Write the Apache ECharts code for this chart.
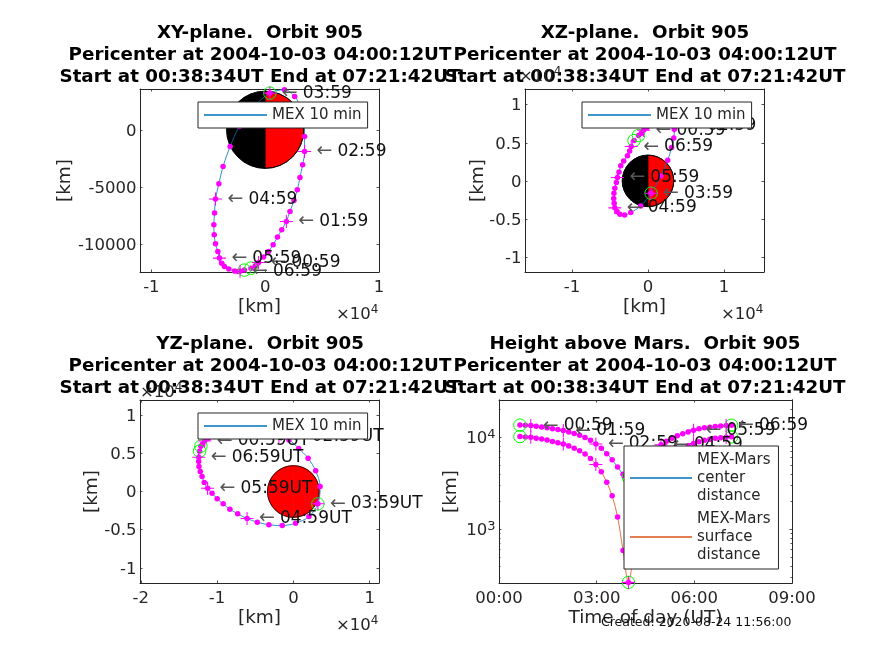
<!DOCTYPE html>
<html><head><meta charset="utf-8">
<style>html,body{margin:0;padding:0;background:#fff}#c{width:874px;height:655px}</style>
<script src="https://cdn.jsdelivr.net/npm/echarts@6/dist/echarts.min.js"></script>
</head><body><div id="c"></div>
<script>
// MEX position every 10 min from 00:38:34UT (km)
const orbitX=[-1250,-870,-580,-145,290,700,1080,1455,1860,2180,2530,2820,3055,3290,3460,3460,3400,3110,2590,1690,410,-960,-2270,-3080,-3700,-4070,-4365,-4450,-4510,-4480,-4365,-4160,-4020,-3810,-3580,-3200,-2700,-2415,-2210,-1830];
const orbitY=[-12120,-11910,-11620,-11150,-10660,-10070,-9400,-8760,-8030,-7150,-6190,-5260,-4180,-3070,-1900,-580,700,1930,2920,3500,3210,2040,290,-1460,-3210,-4730,-6070,-7300,-8320,-9200,-9990,-10660,-11240,-11680,-11970,-12200,-12370,-12410,-12400,-12290];
const orbitZ=[5950,6240,6630,7000,7350,7700,8000,8250,8470,8620,8700,8680,8500,7950,7200,6770,5640,4370,2710,655,-1620,-3280,-4150,-4460,-4370,-4020,-3540,-2930,-2320,-1620,-960,-220,440,1180,1970,2620,3280,3930,4500,5290];
const orbitHours=[0.6428,0.8094,0.9761,1.1428,1.3094,1.4761,1.6428,1.8094,1.9761,2.1428,2.3094,2.4761,2.6428,2.8094,2.9761,3.1428,3.3094,3.4761,3.6428,3.8094,3.9761,4.1428,4.3094,4.4761,4.6428,4.8094,4.9761,5.1428,5.3094,5.4761,5.6428,5.8094,5.9761,6.1428,6.3094,6.4761,6.6428,6.8094,6.9761,7.1428];
const centerDist=[13560,13470,13390,13170,12950,12700,12390,12120,11820,11410,10970,10530,9960,9260,8460,7620,6630,5700,4750,3970,3655,3980,4740,5610,6570,7430,8270,9040,9740,10360,10940,11440,11950,12340,12650,12880,13120,13270,13420,13500];
const surfaceDist=[10170,10080,10000,9780,9560,9310,9000,8730,8430,8020,7580,7140,6570,5870,5070,4230,3240,2310,1360,590,265,590,1350,2220,3180,4040,4880,5650,6350,6970,7550,8050,8560,8950,9260,9490,9730,9880,10030,10110];
const hourIndex=[2,8,14,20,26,32,38];
const hourLabels=['00:59','01:59','02:59','03:59','04:59','05:59','06:59'];
const greenIndex=[0,20,39];
const marsRadius=3390;
const panelTitles=[
 'XY-plane.  Orbit 905\nPericenter at 2004-10-03 04:00:12UT\nStart at 00:38:34UT End at 07:21:42UT',
 'XZ-plane.  Orbit 905\nPericenter at 2004-10-03 04:00:12UT\nStart at 00:38:34UT End at 07:21:42UT',
 'YZ-plane.  Orbit 905\nPericenter at 2004-10-03 04:00:12UT\nStart at 00:38:34UT End at 07:21:42UT',
 'Height above Mars.  Orbit 905\nPericenter at 2004-10-03 04:00:12UT\nStart at 00:38:34UT End at 07:21:42UT'];
const createdText='Created: 2020-08-24 11:56:00';
const xyXTicks=[-10000,0,10000], xyYTicks=[-10000,-5000,0];
const xzXTicks=[-10000,0,10000], xzYTicks=[-10000,-5000,0,5000,10000];
const yzXTicks=[-20000,-10000,0,10000], yzYTicks=[-10000,-5000,0,5000,10000];
const timeTicks=[0,3,6,9];
const heightMajor=[1000,10000];
const heightMinor=[300,400,500,600,700,800,900,2000,3000,4000,5000,6000,7000,8000,9000,20000];

const FF='DejaVu Sans', INK='#262626', BLUE='#0072BD', ORANGE='#D95319', MAG='#FF00FF', GREEN='#00FF00';
const PLUS='path://M46 0H54V46H100V54H54V100H46V54H0V46H46Z';

const grids=[
 {left:140,top:89,width:239,height:183},
 {left:525,top:89,width:239,height:183},
 {left:140,top:400,width:239,height:183},
 {left:499,top:400,width:293,height:183}];
const ranges=[
 {x:[-11000,10000],y:[-12456,3570]},
 {x:[-16180,15260],y:[-11950,12050]},
 {x:[-20100,11220],y:[-12000,12000]},
 {x:[0,9],y:[261,25400]}];
const kmFmt=v=>String(v/10000);
const xAxes=[],yAxes=[];
function addAxis(arr,o){arr.push(o);return arr.length-1;}
function mkX(i,ticks,fmt,name){
 const base={type:'value',gridIndex:i,min:ranges[i].x[0],max:ranges[i].x[1],splitLine:{show:false},
  axisLine:{show:true,onZero:false,lineStyle:{color:INK,width:1}}};
 const tick={show:true,inside:true,length:2.5,customValues:ticks,lineStyle:{color:INK,width:.8}};
 const bot=addAxis(xAxes,Object.assign({},base,{position:'bottom',axisTick:tick,
  axisLabel:{show:true,customValues:ticks,formatter:fmt,margin:7,fontFamily:FF,fontSize:16.5,color:INK,hideOverlap:false,showMinLabel:true,showMaxLabel:true},
  name:name,nameLocation:'middle',nameMoveOverlap:false,nameGap:26,nameTextStyle:{fontFamily:FF,fontSize:18.5,color:INK}}));
 addAxis(xAxes,Object.assign({},base,{position:'top',axisTick:tick,axisLabel:{show:false}}));
 return bot;
}
function mkY(i,ticks,fmt,name,gap,type,minor){
 const base={type:type||'value',gridIndex:i,min:ranges[i].y[0],max:ranges[i].y[1],splitLine:{show:false},
  axisLine:{show:true,onZero:false,lineStyle:{color:INK,width:1}},logBase:10};
 const tick={show:true,inside:true,length:2.5,customValues:ticks,lineStyle:{color:INK,width:.8}};
 const left=addAxis(yAxes,Object.assign({},base,{position:'left',axisTick:tick,
  axisLabel:{show:true,customValues:ticks,formatter:fmt,margin:3.5,fontFamily:FF,fontSize:16.5,color:INK,hideOverlap:false,showMinLabel:true,showMaxLabel:true,padding:[3,0,0,0],
   rich:{s:{fontSize:13,padding:[0,0,9,0],fontFamily:FF,color:INK}}},
  name:name,nameLocation:'middle',nameMoveOverlap:false,nameGap:gap,nameTextStyle:{fontFamily:FF,fontSize:18.5,color:INK}}));
 addAxis(yAxes,Object.assign({},base,{position:'right',axisTick:tick,axisLabel:{show:false}}));
 if(minor){
  const mt=Object.assign({},tick,{customValues:minor,length:1.5});
  addAxis(yAxes,Object.assign({},base,{position:'left',axisTick:mt,axisLabel:{show:false}}));
  addAxis(yAxes,Object.assign({},base,{position:'right',axisTick:mt,axisLabel:{show:false}}));
 }
 return left;
}
const x0=mkX(0,xyXTicks,kmFmt,'[km]'), y0=mkY(0,xyYTicks,v=>String(v),'[km]',65);
const x1=mkX(1,xzXTicks,kmFmt,'[km]'), y1=mkY(1,xzYTicks,kmFmt,'[km]',37);
const x2=mkX(2,yzXTicks,kmFmt,'[km]'), y2=mkY(2,yzYTicks,kmFmt,'[km]',38);
const timeFmt=v=>String(v).padStart(2,'0')+':00';
const x3=mkX(3,timeTicks,timeFmt,'Time of day (UT)');
const y3=mkY(3,heightMajor,v=>'10{s|'+Math.round(Math.log10(v))+'}','[km]',38,'log',heightMinor);

const zipSel=(a,b,idx)=>idx.map(i=>[a[i],b[i]]);
const allIdx=orbitX.map((_,i)=>i);
function marksFor(xi,yi,a,b,labels,lineColor,lineName){
 const s=[];
 s.push({type:'line',name:lineName,xAxisIndex:xi,yAxisIndex:yi,data:allIdx.map(i=>[a[i],b[i]]),smooth:.35,showSymbol:false,symbol:'none',clip:false,silent:true,z:3,
  lineStyle:{color:lineColor,width:.8},itemStyle:{color:lineColor}});
 s.push({type:'scatter',xAxisIndex:xi,yAxisIndex:yi,data:allIdx.map(i=>[a[i],b[i]]),symbol:'circle',symbolSize:5.5,clip:false,silent:true,z:4,itemStyle:{color:MAG,opacity:1}});
 s.push({type:'scatter',xAxisIndex:xi,yAxisIndex:yi,data:zipSel(a,b,greenIndex),symbol:'circle',symbolSize:12.5,clip:false,silent:true,z:5,itemStyle:{color:'transparent',borderColor:GREEN,borderWidth:1,opacity:1}});
 const hs={type:'scatter',xAxisIndex:xi,yAxisIndex:yi,data:zipSel(a,b,hourIndex),symbol:PLUS,symbolSize:13,clip:false,silent:true,z:6,itemStyle:{color:MAG,opacity:1}};
 if(labels){
  hs.label={show:true,position:'right',distance:5.5,color:'#111',fontFamily:FF,fontSize:17,
   formatter:p=>'{a|←}{t|'+labels[p.dataIndex]+'}',
   rich:{a:{fontSize:19,fontFamily:FF,color:'#555',padding:[0,5,0,0]},t:{fontSize:17,fontFamily:FF,color:'#111'}}};
  hs.labelLayout={hideOverlap:false};
 }
 s.push(hs);
 return s;
}
function mars(xi,yi,left,right){
 return {type:'custom',xAxisIndex:xi,yAxisIndex:yi,data:[[0,0,marsRadius]],clip:false,silent:true,z:2,encode:{x:0,y:1},
  renderItem:(p,api)=>{
   const c=api.coord([api.value(0),api.value(1)]);
   const r=api.size([api.value(2),0])[0];
   return {type:'group',children:[
    {type:'sector',shape:{cx:c[0],cy:c[1],r:r,r0:0,startAngle:Math.PI/2,endAngle:Math.PI*3/2,clockwise:true},style:{fill:left,stroke:left==right?left:'#000',lineWidth:.8}},
    {type:'sector',shape:{cx:c[0],cy:c[1],r:r,r0:0,startAngle:-Math.PI/2,endAngle:Math.PI/2,clockwise:true},style:{fill:right,stroke:left==right?right:'#000',lineWidth:.8}},
    {type:'circle',shape:{cx:c[0],cy:c[1],r:r},style:{fill:'none',stroke:'#000',lineWidth:.8}}]};
  }};
}
const series=[];
series.push(mars(x0,y0,'#000','#f00'),...marksFor(x0,y0,orbitX,orbitY,hourLabels,BLUE,'MEX 10 min'));
series.push(mars(x1,y1,'#000','#f00'),...marksFor(x1,y1,orbitX,orbitZ,hourLabels,BLUE,'MEX 10 min'));
series.push(mars(x2,y2,'#f00','#f00'),...marksFor(x2,y2,orbitY,orbitZ,hourLabels.map(h=>h+'UT'),BLUE,'MEX 10 min'));
series.push(...marksFor(x3,y3,orbitHours,centerDist,hourLabels,BLUE,'MEX-Mars center distance'));
series.push(...marksFor(x3,y3,orbitHours,surfaceDist,null,ORANGE,'MEX-Mars surface distance'));

const legendBase={show:true,z:100,backgroundColor:'#fff',borderColor:INK,borderWidth:1,borderRadius:0,selectedMode:false,icon:'rect',
 textStyle:{fontFamily:FF,fontSize:15,color:INK,lineHeight:18},itemHeight:1.5,itemStyle:{borderWidth:0}};
const legends=[
 Object.assign({},legendBase,{left:198,top:102,itemWidth:63,padding:[4,6,4,6],data:['MEX 10 min']}),
 Object.assign({},legendBase,{left:582,top:102,itemWidth:63,padding:[4,6,4,6],data:['MEX 10 min']}),
 Object.assign({},legendBase,{left:198,top:413,itemWidth:63,padding:[4,6,4,6],data:['MEX 10 min']}),
 Object.assign({},legendBase,{left:624,top:446,orient:'vertical',itemWidth:62,itemGap:5,padding:[5,8,5,6],data:['MEX-Mars center distance','MEX-Mars surface distance'],
  formatter:n=>n.replace(/ /g,'\n')})];
const titles=panelTitles.map((t,i)=>({text:t,left:[260,645,260,645][i],top:[22,22,333,333][i],textAlign:'center',
 textStyle:{fontFamily:FF,fontWeight:'bold',fontSize:18.3,lineHeight:22,color:'#000'},padding:0}));
const exp=(x,y)=>({type:'text',x:x,y:y,z:50,style:{text:'×10{s|4}',fontFamily:FF,fontSize:16.5,fill:INK,rich:{s:{fontSize:12,padding:[0,0,9,0],fontFamily:FF,fill:INK}}}});
const graphic=[exp(336,304),exp(721,304),exp(336,615),exp(519,66),exp(140,382),
 {type:'text',x:601,y:616,z:60,style:{text:createdText,fontFamily:FF,fontSize:12.5,fill:'#111'}}];

const chart=echarts.init(document.getElementById('c'),null,{renderer:'canvas'});
chart.setOption({animation:false,backgroundColor:'#fff',title:titles,grid:grids,xAxis:xAxes,yAxis:yAxes,legend:legends,series:series,graphic:graphic,tooltip:{show:false}});
</script></body></html>
